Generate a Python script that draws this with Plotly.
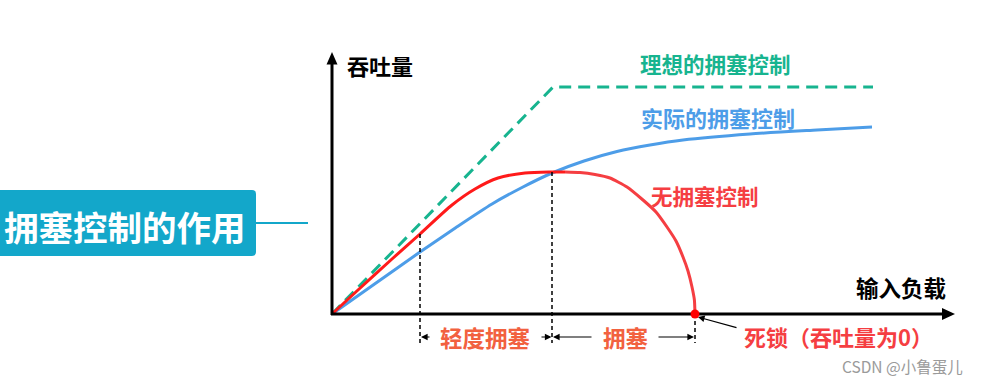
import plotly.graph_objects as go

# ---------------- data (x = input load, y = throughput; arbitrary units) ----------------
ideal_x = [0, 22.1, 54.1]
ideal_y = [0, 22.7, 22.7]

actual_x = [0, 4.4, 8.8, 12.4, 16.0, 19.0, 22.0, 25.2, 28.5, 31.8, 35.1, 41.8, 48.5, 54.0]
actual_y = [0, 3.1, 6.2, 8.65, 11.0, 12.65, 14.1, 15.3, 16.25, 16.9, 17.4, 18.0, 18.4, 18.7]

nocc_rise_x = [0, 2.6, 6.0, 8.8, 12.0, 14.3, 16.6, 19.3, 22.0, 23.3]
nocc_rise_y = [0, 2.4, 5.5, 8.0, 10.9, 12.5, 13.6, 14.1, 14.2, 14.2]
nocc_fall_x = [23.3, 24.8, 26.3, 27.8, 29.5, 31.1, 32.4, 33.5, 34.4, 35.1, 35.6, 36.0, 36.24, 36.3]
nocc_fall_y = [14.2, 14.15, 13.95, 13.6, 12.7, 11.4, 10.2, 8.7, 7.3, 5.7, 4.3, 2.7, 1.4, 0]

mild_start = 8.8          # load where mild congestion begins
mild_start_y = 8.0
congest_start = 22.0      # load where congestion begins (peak)
congest_start_y = 14.2
deadlock_x = 36.3         # throughput drops to 0

labels = {
    "ideal": "理想的拥塞控制",
    "actual": "实际的拥塞控制",
    "none": "无拥塞控制",
    "mild": "轻度拥塞",
    "congest": "拥塞",
    "deadlock": "死锁（吞吐量为0）",
    "xaxis": "输入负载",
    "yaxis": "吞吐量",
    "title": "拥塞控制的作用",
    "mark": "CSDN @小鲁蛋儿",
}

# ---------------- styles ----------------
GREEN = "#17b48f"
BLUE = "#4d9de8"
RED = "#ff1a1a"
RED2 = "#f53e42"
ORANGE = "#f2613f"
BOX = "#13a7ca"
FONT = "Noto Sans CJK SC"

W, H = 988, 384
# axes range chosen so that origin sits at pixel (332, 314), 10 px per unit
XR = [-33.2, 65.6]
YR = [-7.0, 31.4]

fig = go.Figure()

fig.add_trace(go.Scatter(x=ideal_x, y=ideal_y, mode="lines",
                         line=dict(color=GREEN, width=3, dash="12px,7px")))
fig.add_trace(go.Scatter(x=actual_x, y=actual_y, mode="lines",
                         line=dict(color=BLUE, width=3, shape="spline", smoothing=0.7)))
fig.add_trace(go.Scatter(x=nocc_rise_x, y=nocc_rise_y, mode="lines",
                         line=dict(color=RED, width=3, shape="spline", smoothing=0.8)))
fig.add_trace(go.Scatter(x=nocc_fall_x, y=nocc_fall_y, mode="lines",
                         line=dict(color=RED2, width=3, shape="spline", smoothing=0.5)))

# drop lines
drop_bottom = -2.9
for xv, yv in [(mild_start, mild_start_y), (congest_start, congest_start_y), (deadlock_x, 0)]:
    fig.add_trace(go.Scatter(x=[xv, xv], y=[yv, drop_bottom], mode="lines",
                             line=dict(color="black", width=1.5, dash="4px,3px")))

# axes
x_tip, y_tip = 62.3, 26.2
fig.add_trace(go.Scatter(x=[-0.1, x_tip - 0.8], y=[0, 0], mode="lines",
                         line=dict(color="black", width=3)))
fig.add_trace(go.Scatter(x=[0, 0], y=[-0.1, y_tip - 0.8], mode="lines",
                         line=dict(color="black", width=3)))

# deadlock point
fig.add_trace(go.Scatter(x=[deadlock_x], y=[0], mode="markers",
                         marker=dict(color="#ff0000", size=9)))

shapes = []
# arrow heads for axes
shapes.append(dict(type="path", xref="x", yref="y",
                   path=f"M {x_tip},0 L {x_tip-1.3},0.6 L {x_tip-1.3},-0.6 Z",
                   fillcolor="black", line=dict(width=0)))
shapes.append(dict(type="path", xref="x", yref="y",
                   path=f"M 0,{y_tip} L 0.55,{y_tip-1.25} L -0.55,{y_tip-1.25} Z",
                   fillcolor="black", line=dict(width=0)))

# title box with rounded right corners
bx0, bx1, by0, by1, r = -33.4, -7.6, 5.8, 12.4, 0.4
shapes.append(dict(type="path", xref="x", yref="y",
                   path=(f"M {bx0},{by0} H {bx1-r} Q {bx1},{by0} {bx1},{by0+r} "
                         f"V {by1-r} Q {bx1},{by1} {bx1-r},{by1} H {bx0} Z"),
                   fillcolor=BOX, line=dict(width=0)))
shapes.append(dict(type="line", xref="x", yref="y", x0=-7.6, x1=-2.4, y0=9.1, y1=9.1,
                   line=dict(color=BOX, width=2)))

annotations = []

def txt(x, y, text, color, size, bold=True, xanchor="center"):
    annotations.append(dict(x=x, y=y, xref="x", yref="y", showarrow=False,
                            text=f"<b>{text}</b>" if bold else text,
                            font=dict(family=FONT, size=size, color=color),
                            xanchor=xanchor, yanchor="middle"))

def arrow(x_head, x_tail, y, color="black", width=1.2, yh=None, yt=None):
    annotations.append(dict(x=x_head, y=y if yh is None else yh, ax=x_tail, ay=y if yt is None else yt,
                            xref="x", yref="y", axref="x", ayref="y", text="",
                            showarrow=True, arrowhead=2, arrowsize=1.1, arrowwidth=width,
                            arrowcolor=color, standoff=0, startstandoff=0))

arrow_y = -2.3
arrow(mild_start + 0.1, mild_start + 1.1, arrow_y)
arrow(congest_start - 0.05, congest_start - 1.2, arrow_y)
arrow(congest_start + 0.1, 26.1, arrow_y)
arrow(deadlock_x - 0.1, 32.5, arrow_y)
arrow(36.6, 40.6, 0, yh=-0.3, yt=-1.4)

txt(15.3, arrow_y, labels["mild"], ORANGE, 22.5)
txt(29.3, arrow_y, labels["congest"], ORANGE, 22.5)
txt(41.0, -2.2, labels["deadlock"], RED2, 22, xanchor="left")
txt(56.9, 2.7, labels["xaxis"], "black", 22.5)
txt(1.3, 24.9, labels["yaxis"], "black", 22, xanchor="left")
txt(38.3, 25.1, labels["ideal"], GREEN, 21.5)
txt(38.6, 19.7, labels["actual"], BLUE, 22)
txt(37.3, 11.9, labels["none"], RED2, 21.5)
txt(57.0, -5.2, labels["mark"], "#9a9a9a", 15.5, bold=False)
txt(-20.7, 8.8, labels["title"], "white", 34.5)

fig.update_layout(
    width=W, height=H, autosize=False,
    margin=dict(l=0, r=0, t=0, b=0),
    paper_bgcolor="white", plot_bgcolor="white",
    showlegend=False,
    xaxis=dict(range=XR, visible=False, fixedrange=True),
    yaxis=dict(range=YR, visible=False, fixedrange=True),
    shapes=shapes, annotations=annotations,
)

fig.write_html("out.html", config={"displayModeBar": False},
               post_script="document.body.style.margin='0';document.body.style.overflow='hidden';")
